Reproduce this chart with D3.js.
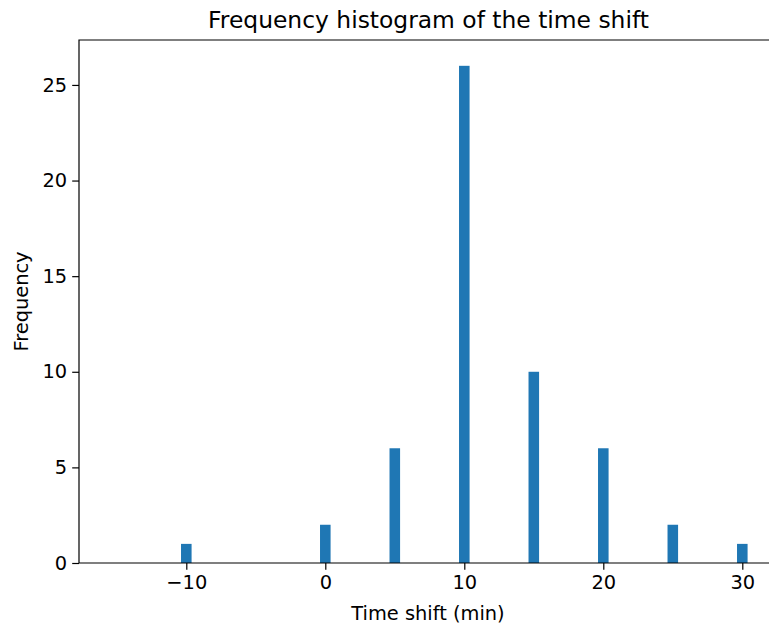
<!DOCTYPE html>
<html><head><meta charset="utf-8">
<script src="https://cdn.jsdelivr.net/npm/d3@7"></script>
<style>body{margin:0;background:#fff}text{font-family:"DejaVu Sans",sans-serif;fill:#000}</style>
</head><body><svg id="c" width="769" height="625"></svg>
<script>
const shifts = [-10, 0, 5, 10, 15, 20, 25, 30];
const counts = [1, 2, 6, 26, 10, 6, 2, 1];
const xTicks = [-10, 0, 10, 20, 30];
const yTicks = [0, 5, 10, 15, 20, 25];
const binWidth = 0.76;

const svg = d3.select("#c");
const L = 79, T = 40, B = 563;
const x = d3.scaleLinear().domain([-10, 30]).range([186.3, 742.3]);
const R = 790;
const y = d3.scaleLinear().domain([0, 27.35]).range([B, T]);

svg.append("g").selectAll("rect").data(shifts).join("rect")
  .attr("x", (d) => x(d - binWidth / 2))
  .attr("width", (d) => x(d + binWidth / 2) - x(d - binWidth / 2))
  .attr("y", (d, i) => y(counts[i]))
  .attr("height", (d, i) => y(0) - y(counts[i]))
  .attr("fill", "#1f77b4");

const xa = svg.append("g").attr("transform", `translate(0,${B})`)
  .call(d3.axisBottom(x).tickValues(xTicks).tickSize(6.8).tickPadding(5)
    .tickFormat(d => d < 0 ? "\u2212" + Math.abs(d) : d));
const ya = svg.append("g").attr("transform", `translate(${L},0)`)
  .call(d3.axisLeft(y).tickValues(yTicks).tickSize(6.8).tickPadding(5));
[xa, ya].forEach(a => {
  a.select(".domain").remove();
  a.selectAll("line").attr("stroke", "#000").attr("stroke-width", 1.2);
  a.selectAll("text").attr("font-size", "19.4px").style("font-family", "DejaVu Sans");
});

svg.append("path").attr("d", `M${L},${B}V${T}H${R}M${L},${B}H${R}`)
  .attr("fill", "none").attr("stroke", "#000").attr("stroke-width", 1.2);

svg.append("text").attr("x", 428.5).attr("y", 28).attr("text-anchor", "middle")
  .attr("font-size", "23.4px").text("Frequency histogram of the time shift");
svg.append("text").attr("x", 428).attr("y", 620).attr("text-anchor", "middle")
  .attr("font-size", "19.4px").text("Time shift (min)");
svg.append("text").attr("transform", `translate(28,${(T + B) / 2}) rotate(-90)`)
  .attr("text-anchor", "middle").attr("font-size", "19.4px").text("Frequency");
</script></body></html>
